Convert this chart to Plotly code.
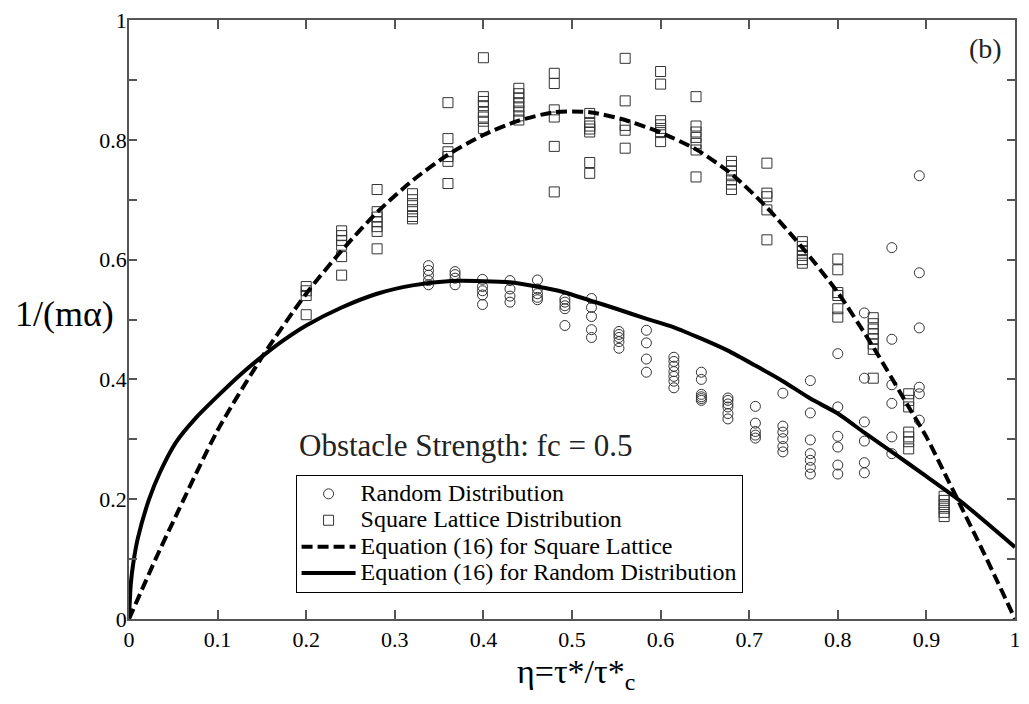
import plotly.graph_objects as go

# ---------------- data ----------------
# Square lattice simulation points (x columns and y values per column)
sq_x_cols = [0.20, 0.24, 0.28, 0.32, 0.36, 0.40, 0.44, 0.48, 0.52, 0.56,
             0.60, 0.64, 0.68, 0.72, 0.76, 0.80, 0.84, 0.88, 0.92]
sq_y_cols = [
    [0.555, 0.548, 0.540, 0.508],
    [0.648, 0.640, 0.632, 0.624, 0.605, 0.574],
    [0.717, 0.680, 0.671, 0.663, 0.655, 0.647, 0.618],
    [0.710, 0.700, 0.690, 0.680, 0.672, 0.668],
    [0.862, 0.802, 0.780, 0.772, 0.764, 0.727],
    [0.937, 0.872, 0.864, 0.857, 0.846, 0.838, 0.831, 0.819],
    [0.886, 0.877, 0.870, 0.862, 0.855, 0.848, 0.840, 0.833],
    [0.911, 0.894, 0.850, 0.838, 0.789, 0.713],
    [0.844, 0.829, 0.823, 0.818, 0.813, 0.762, 0.744],
    [0.936, 0.865, 0.824, 0.816, 0.786],
    [0.914, 0.893, 0.832, 0.825, 0.819, 0.812, 0.797],
    [0.872, 0.823, 0.813, 0.804, 0.794, 0.783, 0.738],
    [0.764, 0.757, 0.748, 0.740, 0.733, 0.726, 0.717],
    [0.761, 0.711, 0.705, 0.683, 0.633],
    [0.630, 0.622, 0.615, 0.607, 0.600, 0.594],
    [0.601, 0.583, 0.545, 0.540, 0.518, 0.504],
    [0.503, 0.493, 0.484, 0.476, 0.468, 0.459, 0.450, 0.402],
    [0.376, 0.365, 0.354, 0.312, 0.304, 0.296, 0.284],
    [0.205, 0.198, 0.191, 0.185, 0.178, 0.171],
]

# Random distribution simulation points
rd_x_cols = [0.338, 0.368, 0.399, 0.430, 0.461, 0.492, 0.522, 0.553, 0.584, 0.615,
             0.646, 0.676, 0.707, 0.738, 0.769, 0.800, 0.830, 0.861, 0.892]
rd_y_cols = [
    [0.590, 0.582, 0.574, 0.565, 0.558],
    [0.580, 0.575, 0.569, 0.558],
    [0.567, 0.555, 0.548, 0.541, 0.525],
    [0.565, 0.551, 0.539, 0.529],
    [0.566, 0.551, 0.543, 0.537, 0.533],
    [0.534, 0.529, 0.523, 0.518, 0.490],
    [0.535, 0.520, 0.505, 0.483, 0.470],
    [0.480, 0.475, 0.470, 0.463, 0.452],
    [0.482, 0.461, 0.434, 0.412],
    [0.437, 0.430, 0.422, 0.413, 0.405, 0.397, 0.386],
    [0.412, 0.400, 0.375, 0.371, 0.368, 0.365],
    [0.369, 0.365, 0.359, 0.354, 0.343, 0.334],
    [0.355, 0.327, 0.313, 0.307, 0.302],
    [0.377, 0.322, 0.312, 0.301, 0.288, 0.279],
    [0.398, 0.344, 0.299, 0.276, 0.265, 0.253, 0.242],
    [0.443, 0.354, 0.305, 0.287, 0.257, 0.242],
    [0.511, 0.402, 0.329, 0.297, 0.261, 0.244],
    [0.620, 0.467, 0.391, 0.360, 0.304, 0.276],
    [0.740, 0.578, 0.486, 0.387, 0.376, 0.332],
]

# Equation (16) curves
sq_curve_x = [0, 0.03, 0.05, 0.10, 0.15, 0.20, 0.24, 0.28, 0.32, 0.36, 0.40, 0.44,
              0.48, 0.52, 0.56, 0.60, 0.64, 0.68, 0.72, 0.76, 0.80, 0.84, 0.88,
              0.90, 0.92, 0.94, 0.96, 0.98, 1.00]
sq_curve_y = [0, 0.100, 0.163, 0.315, 0.437, 0.543, 0.615, 0.679, 0.732, 0.775,
              0.808, 0.832, 0.846, 0.846, 0.833, 0.812, 0.784, 0.743, 0.687,
              0.620, 0.545, 0.454, 0.354, 0.304, 0.245, 0.185, 0.125, 0.063, 0.0]

rd_curve_x = [0, 0.002, 0.005, 0.01, 0.0227, 0.035, 0.053, 0.075, 0.10, 0.125, 0.15,
              0.175, 0.20, 0.24, 0.28, 0.32, 0.36, 0.40, 0.43, 0.46, 0.49, 0.52,
              0.55, 0.58, 0.615, 0.646, 0.676, 0.707, 0.738, 0.769, 0.80, 0.83,
              0.861, 0.90, 0.94, 1.00]
rd_curve_y = [0, 0.058, 0.095, 0.135, 0.200, 0.245, 0.295, 0.335, 0.372, 0.407,
              0.438, 0.466, 0.490, 0.520, 0.543, 0.557, 0.564, 0.564, 0.562,
              0.555, 0.546, 0.532, 0.518, 0.503, 0.487, 0.468, 0.448, 0.423,
              0.397, 0.368, 0.343, 0.311, 0.279, 0.238, 0.195, 0.120]

x_ticks = [0, 0.1, 0.2, 0.3, 0.4, 0.5, 0.6, 0.7, 0.8, 0.9, 1]
x_tick_labels = ["0", "0.1", "0.2", "0.3", "0.4", "0.5", "0.6", "0.7", "0.8", "0.9", "1"]
y_ticks = [0, 0.2, 0.4, 0.6, 0.8, 1]
y_tick_labels = ["0", "0.2", "0.4", "0.6", "0.8", "1"]

legend_names = ["Random Distribution", "Square Lattice Distribution",
                "Equation (16) for Square Lattice", "Equation (16) for Random Distribution"]

# ---------------- build figure ----------------
def flatten(xc, yc):
    xs, ys = [], []
    for xv, col in zip(xc, yc):
        for yv in col:
            xs.append(xv)
            ys.append(yv)
    return xs, ys

rx, ry = flatten(rd_x_cols, rd_y_cols)
sx, sy = flatten(sq_x_cols, sq_y_cols)

FONT = "Liberation Serif, Times New Roman, serif"
INK = "#333333"
AX = "#555555"

def lg(name):
    return '<span style="font-size:24px">' + name + '</span>'

fig = go.Figure()
fig.add_trace(go.Scatter(
    x=rx, y=ry, mode="markers", name=lg(legend_names[0]),
    marker=dict(symbol="circle-open", size=10, color=INK, line=dict(width=1, color=INK)),
))
fig.add_trace(go.Scatter(
    x=sx, y=sy, mode="markers", name=lg(legend_names[1]),
    marker=dict(symbol="square-open", size=10, color=INK, line=dict(width=1, color=INK)),
))
fig.add_trace(go.Scatter(
    x=sq_curve_x, y=sq_curve_y, mode="lines", name=lg(legend_names[2]),
    line=dict(color="black", width=4, dash="11px,5px", shape="spline", smoothing=0.7),
))
fig.add_trace(go.Scatter(
    x=rd_curve_x, y=rd_curve_y, mode="lines", name=lg(legend_names[3]),
    line=dict(color="black", width=4, shape="spline", smoothing=0.6),
))

axis_common = dict(
    showgrid=False, zeroline=False, showline=True, linecolor=AX, linewidth=1.5,
    mirror="ticks", ticks="inside", tickcolor=AX, tickwidth=1.5,
    tickfont=dict(family=FONT, size=22, color="black"),
)

fig.update_xaxes(
    range=[0, 1], tickmode="array", tickvals=x_ticks, ticktext=x_tick_labels,
    ticklen=9, **axis_common,
)
fig.update_yaxes(
    range=[0, 1], tickmode="array", tickvals=y_ticks, ticktext=y_tick_labels,
    ticklen=8, ticklabelstandoff=-4,
    minor=dict(dtick=0.1, ticks="inside", ticklen=8, tickcolor=AX, tickwidth=1.5),
    **axis_common,
)

fig.update_layout(
    width=1029, height=704,
    margin=dict(l=129, r=8, t=19, b=85),
    paper_bgcolor="white", plot_bgcolor="white",
    font=dict(family=FONT, color="black"),
    showlegend=True,
    legend=dict(
        x=0.188, y=0.241, xanchor="left", yanchor="top",
        bgcolor="white", bordercolor="black", borderwidth=1,
        font=dict(family=FONT, size=18, color="black"),
        itemwidth=54, tracegroupgap=0,
    ),
    annotations=[
        dict(text="Obstacle Strength: fc = 0.5", x=0.190, y=0.290, xref="x", yref="y",
             xanchor="left", yanchor="middle", showarrow=False,
             font=dict(family=FONT, size=31, color="#222222")),
        dict(text="(b)", x=0.946, y=0.953, xref="x", yref="y",
             xanchor="left", yanchor="middle", showarrow=False,
             font=dict(family=FONT, size=28, color="#222222")),
        dict(text="1/(mα)", x=-0.073, y=0.51, xref="paper", yref="paper",
             xanchor="center", yanchor="middle", showarrow=False,
             font=dict(family=FONT, size=36, color="black")),
        dict(text="η=τ*/τ*<sub>c</sub>", x=0.505, y=-0.053, xref="paper", yref="paper",
             xanchor="center", yanchor="top", showarrow=False,
             font=dict(family=FONT, size=34, color="black")),
    ],
)

fig.write_html(
    "out.html",
    config={"displayModeBar": False},
    post_script="document.body.style.margin='0';document.body.style.overflow='hidden';",
)
